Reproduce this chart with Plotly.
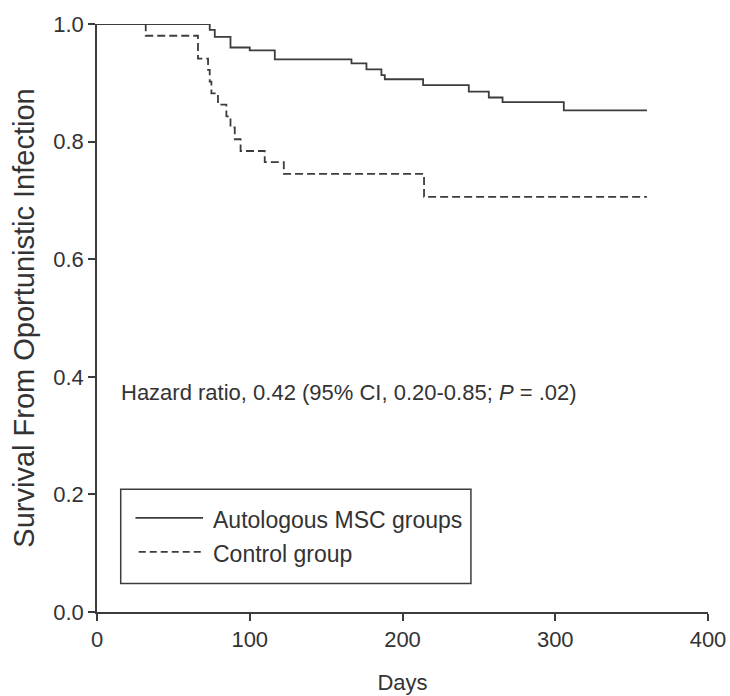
import plotly.graph_objects as go

# ---- data ----
series_names = ["Autologous MSC groups", "Control group"]

auto_days = [0, 73.8, 77.1, 87.4, 100, 116.4, 166.6, 176.4, 186.2, 188.4, 213.5, 243.4, 256.5, 265.5, 305.6, 360]
auto_surv = [1.0, 0.990, 0.978, 0.960, 0.955, 0.940, 0.933, 0.923, 0.913, 0.906, 0.896, 0.885, 0.875, 0.867, 0.853, 0.853]

ctrl_days = [0, 31.9, 66.1, 72.7, 73.8, 74.9, 79.2, 84.7, 87.4, 90.2, 94.0, 109.8, 122.3, 214.1, 360]
ctrl_surv = [1.0, 0.980, 0.941, 0.922, 0.902, 0.882, 0.863, 0.843, 0.824, 0.804, 0.784, 0.765, 0.745, 0.706, 0.706]

x_ticks = [0, 100, 200, 300, 400]
y_ticks = [0.0, 0.2, 0.4, 0.6, 0.8, 1.0]

hazard_text = "Hazard ratio, 0.42 (95% CI, 0.20-0.85; <i>P</i> = .02)"
x_title = "Days"
y_title = "Survival From Oportunistic Infection"

FONT = "Liberation Sans Narrow, Arial Narrow, Liberation Sans, Arial, sans-serif"
INK = "#333333"
LINE = "#3c3c3c"

fig = go.Figure()
fig.add_trace(go.Scatter(x=auto_days, y=auto_surv, mode="lines", line_shape="hv",
                         name=series_names[0], showlegend=False, cliponaxis=False,
                         line=dict(color=LINE, width=1.8)))
fig.add_trace(go.Scatter(x=ctrl_days, y=ctrl_surv, mode="lines", line_shape="hv",
                         name=series_names[1], showlegend=False, cliponaxis=False,
                         line=dict(color=LINE, width=1.8, dash="8px,4px")))

# manual legend (box + sample lines + labels)
fig.add_shape(type="rect", xref="paper", yref="paper", x0=0.0388, x1=0.612, y0=0.0483, y1=0.2088,
              line=dict(color=LINE, width=1.5), fillcolor="rgba(0,0,0,0)")
fig.add_shape(type="line", xref="paper", yref="paper", x0=0.0629, x1=0.1736, y0=0.160, y1=0.160,
              line=dict(color=LINE, width=1.8))
fig.add_shape(type="line", xref="paper", yref="paper", x0=0.0683, x1=0.1736, y0=0.1021, y1=0.1021,
              line=dict(color=LINE, width=1.8, dash="7px,4px"))
fig.add_annotation(xref="paper", yref="paper", x=0.1873, y=0.157, xanchor="left", yanchor="middle",
                   text=series_names[0], showarrow=False, font=dict(family=FONT, size=23, color=INK))
fig.add_annotation(xref="paper", yref="paper", x=0.1873, y=0.099, xanchor="left", yanchor="middle",
                   text=series_names[1], showarrow=False, font=dict(family=FONT, size=23, color=INK))

fig.add_annotation(xref="paper", yref="paper", x=0.036, y=0.374, xanchor="left", yanchor="middle",
                   text=hazard_text, showarrow=False, font=dict(family=FONT, size=22, color=INK))

axis_common = dict(showgrid=False, zeroline=False, showline=True, linecolor=LINE, linewidth=1.5,
                   ticks="outside", ticklen=7, tickwidth=1.5, tickcolor=LINE, automargin=False,
                   tickfont=dict(family=FONT, size=22, color=INK))

fig.update_layout(
    width=730, height=696,
    margin=dict(l=97, r=22, t=24, b=84),
    paper_bgcolor="white", plot_bgcolor="white",
    xaxis=dict(range=[0, 400], tickvals=x_ticks, ticktext=[str(v) for v in x_ticks],
               title=dict(text=x_title, font=dict(family=FONT, size=22, color=INK), standoff=23),
               ticklabelstandoff=0, **axis_common),
    yaxis=dict(range=[0, 1.0], tickvals=y_ticks, ticktext=[f"{v:.1f}" for v in y_ticks],
               title=dict(text=y_title, font=dict(family=FONT, size=29, color=INK), standoff=10),
               **axis_common),
)

# remove the default page margin so the 730x696 figure fills the window exactly
fig.write_html("out.html",
               config={"displayModeBar": False},
               post_script="document.body.style.margin='0';document.body.style.overflow='hidden';")
